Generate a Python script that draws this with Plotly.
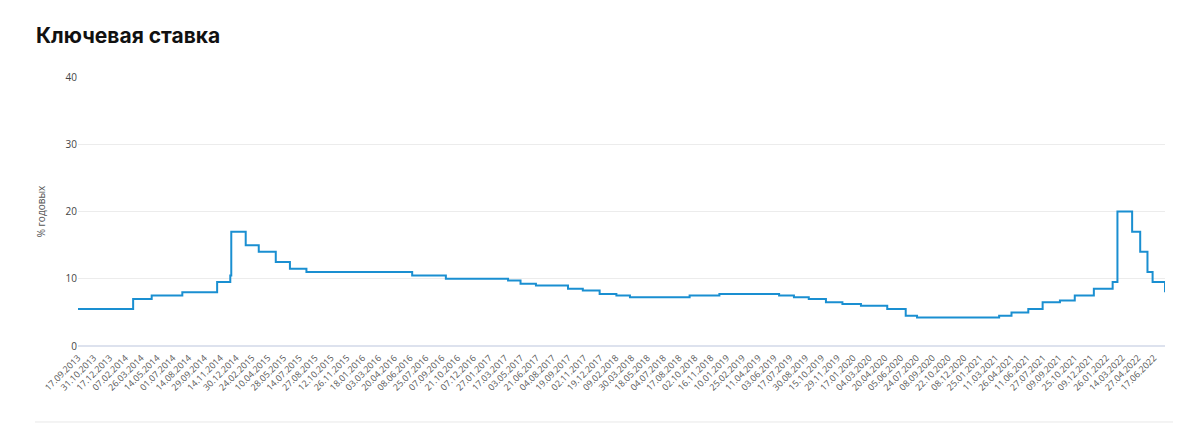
import numpy as np
import plotly.graph_objects as go

# Tick labels on the x axis (every 32 working days in the source)
tick_labels = [
    "17.09.2013", "31.10.2013", "17.12.2013", "07.02.2014", "26.03.2014", "14.05.2014",
    "01.07.2014", "14.08.2014", "29.09.2014", "14.11.2014", "30.12.2014", "24.02.2015",
    "10.04.2015", "28.05.2015", "14.07.2015", "27.08.2015", "12.10.2015", "26.11.2015",
    "18.01.2016", "03.03.2016", "20.04.2016", "08.06.2016", "25.07.2016", "07.09.2016",
    "21.10.2016", "07.12.2016", "27.01.2017", "17.03.2017", "03.05.2017", "21.06.2017",
    "04.08.2017", "19.09.2017", "02.11.2017", "19.12.2017", "09.02.2018", "30.03.2018",
    "18.05.2018", "04.07.2018", "17.08.2018", "02.10.2018", "16.11.2018", "10.01.2019",
    "25.02.2019", "11.04.2019", "03.06.2019", "17.07.2019", "30.08.2019", "15.10.2019",
    "29.11.2019", "17.01.2020", "04.03.2020", "20.04.2020", "05.06.2020", "24.07.2020",
    "08.09.2020", "22.10.2020", "08.12.2020", "25.01.2021", "11.03.2021", "26.04.2021",
    "11.06.2021", "27.07.2021", "09.09.2021", "25.10.2021", "09.12.2021", "26.01.2022",
    "14.03.2022", "27.04.2022", "17.06.2022",
]

# Key rate: date from which each value applies (% per year)
rate_dates = [
    "17.09.2013", "03.03.2014", "28.04.2014", "28.07.2014", "05.11.2014", "12.12.2014",
    "16.12.2014", "02.02.2015", "16.03.2015", "05.05.2015", "16.06.2015", "03.08.2015",
    "14.06.2016", "19.09.2016", "27.03.2017", "02.05.2017", "19.06.2017", "18.09.2017",
    "30.10.2017", "18.12.2017", "12.02.2018", "26.03.2018", "17.09.2018", "17.12.2018",
    "17.06.2019", "29.07.2019", "09.09.2019", "28.10.2019", "16.12.2019", "10.02.2020",
    "27.04.2020", "22.06.2020", "27.07.2020", "22.03.2021", "26.04.2021", "15.06.2021",
    "26.07.2021", "13.09.2021", "25.10.2021", "20.12.2021", "14.02.2022", "28.02.2022",
    "11.04.2022", "04.05.2022", "27.05.2022", "14.06.2022", "25.07.2022",
]
rate_values = [
    5.5, 7.0, 7.5, 8.0, 9.5, 10.5,
    17.0, 15.0, 14.0, 12.5, 11.5, 11.0,
    10.5, 10.0, 9.75, 9.25, 9.0, 8.5,
    8.25, 7.75, 7.5, 7.25, 7.5, 7.75,
    7.5, 7.25, 7.0, 6.5, 6.25, 6.0,
    5.5, 4.5, 4.25, 4.5, 5.0, 5.5,
    6.5, 6.75, 7.5, 8.5, 9.5, 20.0,
    17.0, 14.0, 11.0, 9.5, 8.0,
]


def to_d64(s):
    d, m, y = s.split(".")
    return np.datetime64(f"{y}-{m}-{d}")


tick_d = np.array([to_d64(s) for s in tick_labels])


def position(s):
    """Working-day index position on the categorical-style axis (tick spacing = 1)."""
    d = to_d64(s)
    i = int(np.searchsorted(tick_d, d, side="right")) - 1
    i = max(0, min(i, len(tick_d) - 2))
    span = np.busday_count(tick_d[i], tick_d[i + 1])
    return i + np.busday_count(tick_d[i], d) / span


x_vals = [position(s) for s in rate_dates]

fig = go.Figure()
fig.add_trace(go.Scatter(
    x=x_vals, y=rate_values, mode="lines", line_shape="hv",
    line=dict(color="#1a8fd1", width=2),
    customdata=rate_dates,
    hovertemplate="%{customdata}: %{y}%<extra></extra>",
))

fig.add_shape(type="line", xref="paper", yref="paper",
              x0=-0.0396, x1=1.0074, y0=-0.2825, y1=-0.2825,
              line=dict(color="#e8e8e8", width=1))

fig.update_layout(
    width=1192, height=422,
    margin=dict(l=70, r=35, t=69, b=84),
    paper_bgcolor="white", plot_bgcolor="white",
    font=dict(family="Open Sans, Roboto, sans-serif", color="#555555", size=10),
    title=dict(text="<b>Ключевая ставка</b>", x=28 / 1192, xanchor="left",
               y=0.953, yanchor="top", xref="container", yref="container",
               font=dict(size=21, color="#111111", family="Inter, Roboto, sans-serif")),
    showlegend=False,
    xaxis=dict(
        range=[x_vals[0], x_vals[-1]],
        tickmode="array", tickvals=list(range(len(tick_labels))), ticktext=tick_labels,
        tickangle=-45, tickfont=dict(size=9, color="#555555", family="Open Sans, Roboto, sans-serif"),
        ticklabelstandoff=4,
        showgrid=False, zeroline=False, showline=False, ticks="",
    ),
    yaxis=dict(
        range=[0, 40], tickvals=[0, 10, 20, 30, 40],
        gridcolor="#ececec", gridwidth=1,
        zeroline=True, zerolinecolor="#dde2ee", zerolinewidth=2,
        tickfont=dict(size=10, color="#444444"),
        title=dict(text="% годовых", font=dict(size=10, color="#555555"), standoff=18),
    ),
)

fig.write_html("out.html")
